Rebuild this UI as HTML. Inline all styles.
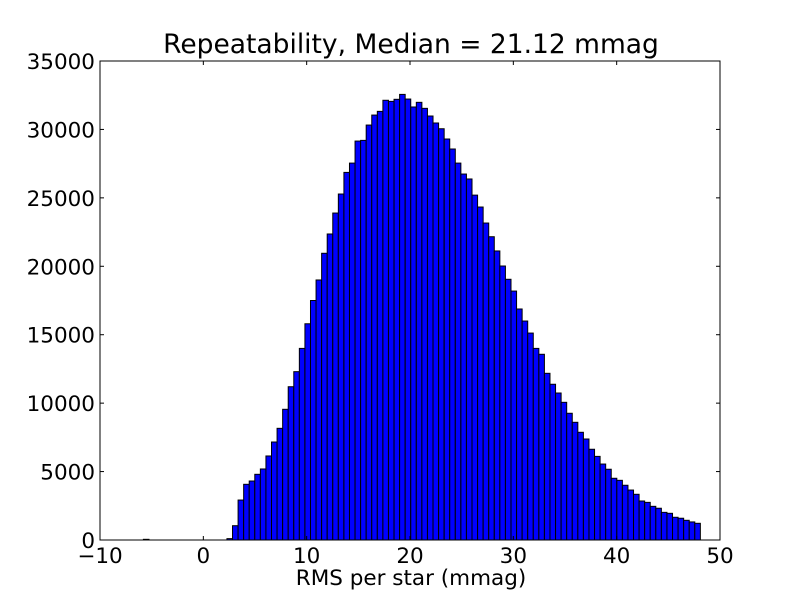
<!DOCTYPE html>
<html><head><meta charset="utf-8"><style>
body{margin:0;background:#fff}
svg text{font-family:"DejaVu Sans","Liberation Sans",sans-serif}
</style></head><body>
<svg id="chart" width="800" height="600" xmlns="http://www.w3.org/2000/svg">
<rect width="800" height="600" fill="#fff"/>
<text x="411" y="53" font-size="26.5" text-anchor="middle">Repeatability, Median = 21.12 mmag</text>
<text x="411" y="585" font-size="21.5" text-anchor="middle">RMS per star (mmag)</text>
<g id="bars"></g>
<g id="axes"></g>
</svg>
<script>
const binStart = -5.8;
const binWidth = 0.539;
const counts = [50,0,0,0,0,0,0,0,0,0,0,0,0,0,0,100,1045,2920,4070,4310,4800,5190,6140,7160,8160,9550,11200,12300,14000,15800,17500,19000,20950,22360,23890,25280,26860,27540,29150,29200,30320,31050,31320,32130,32050,32200,32560,32220,31640,31980,31540,30980,30470,30050,29300,28570,27540,26740,26380,25200,24330,23160,22160,21120,20020,19050,18190,16880,16000,15120,14000,13570,12180,11380,10740,10060,9260,8600,7870,7380,6630,6110,5550,5170,4510,4360,4000,3650,3340,2850,2750,2460,2320,2020,1950,1660,1590,1440,1320,1220];
const xTicks = [-10,0,10,20,30,40,50];
const yTicks = [0,5000,10000,15000,20000,25000,30000,35000];
const L=100,R=720,T=61,B=540;
const xs=v=>L+(v+10)/60*(R-L);
const ys=v=>B-v/35000*(B-T);
const NS="http://www.w3.org/2000/svg";
const bars=document.getElementById('bars');
counts.forEach((c,i)=>{
  const x0=xs(binStart+i*binWidth), x1=xs(binStart+(i+1)*binWidth);
  const r=document.createElementNS(NS,'rect');
  r.setAttribute('x',x0);r.setAttribute('width',x1-x0);
  r.setAttribute('y',ys(c));r.setAttribute('height',B-ys(c));
  r.setAttribute('fill','#0000ff');r.setAttribute('stroke','#000');r.setAttribute('stroke-width','1');
  
  
  bars.appendChild(r);
});
const ax=document.getElementById('axes');
let h=`<rect x="${L}" y="${T}" width="${R-L}" height="${B-T}" fill="none" stroke="#000" stroke-width="1"/>`;
xTicks.forEach(t=>{const x=xs(t);
  h+=`<line x1="${x}" y1="${B}" x2="${x}" y2="${B-4}" stroke="#000"/><line x1="${x}" y1="${T}" x2="${x}" y2="${T+4}" stroke="#000"/>`;
  h+=`<text x="${x}" y="${B+23}" font-size="21.5" text-anchor="middle">${t<0?'\u2212'+(-t):t}</text>`;});
yTicks.forEach(t=>{const y=ys(t);
  h+=`<line x1="${L}" y1="${y}" x2="${L+4}" y2="${y}" stroke="#000"/><line x1="${R}" y1="${y}" x2="${R-4}" y2="${y}" stroke="#000"/>`;
  h+=`<text x="${L-5}" y="${y+8}" font-size="21.5" text-anchor="end">${t}</text>`;});
ax.innerHTML=h;
</script>
</body></html>
